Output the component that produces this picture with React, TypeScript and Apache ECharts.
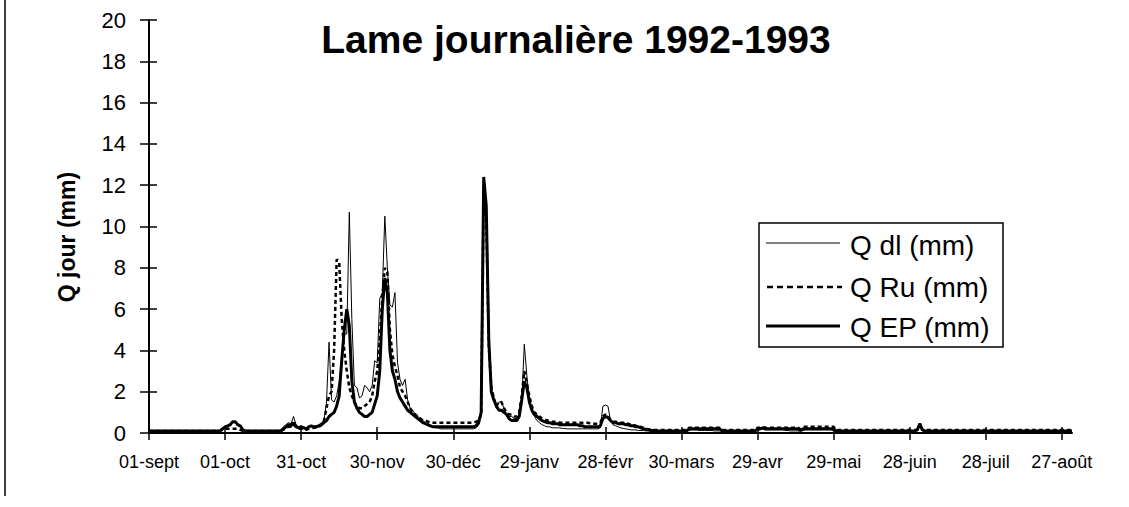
import React, { useEffect, useRef } from "react";
import * as echarts from "echarts";

// Tick labels shown every 30 days (01-sept-1992 .. 31-août-1993, 365 days)
const tickLabels = [
  "01-sept", "01-oct", "31-oct", "30-nov", "30-déc", "29-janv", "28-févr",
  "30-mars", "29-avr", "29-mai", "28-juin", "28-juil", "27-août",
];

const seriesNames = ["Q dl (mm)", "Q Ru (mm)", "Q EP (mm)"];

// Q dl (mm) — daily values
const qDl = [
  0.08, 0.08, 0.08, 0.08, 0.08, 0.08, 0.08, 0.08, 0.08, 0.08,
  0.08, 0.08, 0.08, 0.08, 0.08, 0.08, 0.08, 0.08, 0.08, 0.08,
  0.08, 0.08, 0.08, 0.08, 0.08, 0.08, 0.08, 0.1, 0.12, 0.2,
  0.3, 0.35, 0.4, 0.5, 0.5, 0.4, 0.3, 0.15, 0.1, 0.1,
  0.1, 0.1, 0.1, 0.1, 0.1, 0.1, 0.1, 0.1, 0.1, 0.1,
  0.1, 0.12, 0.15, 0.3, 0.4, 0.5, 0.45, 0.8, 0.4, 0.3,
  0.35, 0.3, 0.25, 0.35, 0.3, 0.3, 0.35, 0.4, 0.5, 0.6,
  1.5, 4.4, 1.6, 1.5, 1.8, 2.5, 3.6, 4.8, 4.8, 10.7,
  5.5, 2.3, 2.2, 1.7, 1.8, 2.3, 2.2, 2.0, 2.3, 3.5,
  3.4, 6.5, 6.8, 10.5, 8.0, 6.2, 6.1, 6.8, 3.4, 2.6,
  2.3, 2.6, 1.6, 1.2, 1.1, 0.9, 0.8, 0.7, 0.6, 0.5,
  0.4, 0.35, 0.3, 0.25, 0.25, 0.2, 0.2, 0.2, 0.2, 0.2,
  0.2, 0.2, 0.2, 0.2, 0.2, 0.2, 0.2, 0.2, 0.2, 0.25,
  0.4, 1.0, 12.3, 10.8, 4.4, 2.0, 1.6, 1.2, 1.5, 1.5,
  1.2, 0.9, 0.8, 0.8, 0.7, 0.7, 0.9, 1.5, 4.3, 2.8,
  1.6, 1.0, 0.8, 0.6, 0.5, 0.4, 0.35, 0.3, 0.3, 0.25,
  0.25, 0.25, 0.25, 0.22, 0.22, 0.2, 0.2, 0.2, 0.2, 0.2,
  0.2, 0.2, 0.2, 0.2, 0.2, 0.2, 0.2, 0.2, 0.25, 1.3,
  1.35, 1.3, 0.6, 0.4, 0.35, 0.3, 0.25, 0.22, 0.2, 0.18,
  0.15, 0.15, 0.15, 0.12, 0.12, 0.12, 0.1, 0.1, 0.1, 0.1,
  0.1, 0.1, 0.1, 0.1, 0.1, 0.1, 0.1, 0.1, 0.1, 0.1,
  0.1, 0.1, 0.1, 0.12, 0.15, 0.15, 0.15, 0.12, 0.12, 0.12,
  0.12, 0.12, 0.12, 0.1, 0.1, 0.1, 0.1, 0.1, 0.1, 0.1,
  0.1, 0.1, 0.1, 0.1, 0.1, 0.1, 0.1, 0.1, 0.1, 0.1,
  0.12, 0.15, 0.2, 0.15, 0.15, 0.15, 0.15, 0.15, 0.15, 0.15,
  0.15, 0.12, 0.12, 0.1, 0.1, 0.1, 0.1, 0.1, 0.12, 0.15,
  0.15, 0.15, 0.15, 0.15, 0.15, 0.15, 0.15, 0.15, 0.15, 0.15,
  0.1, 0.1, 0.1, 0.1, 0.1, 0.1, 0.1, 0.1, 0.1, 0.1,
  0.08, 0.08, 0.08, 0.08, 0.08, 0.08, 0.08, 0.08, 0.08, 0.08,
  0.08, 0.08, 0.08, 0.08, 0.08, 0.08, 0.08, 0.08, 0.08, 0.08,
  0.08, 0.08, 0.1, 0.15, 0.4, 0.15, 0.1, 0.08, 0.08, 0.08,
  0.08, 0.08, 0.08, 0.08, 0.08, 0.08, 0.08, 0.08, 0.08, 0.08,
  0.08, 0.08, 0.08, 0.08, 0.08, 0.08, 0.08, 0.08, 0.08, 0.08,
  0.08, 0.08, 0.08, 0.08, 0.08, 0.08, 0.08, 0.08, 0.08, 0.08,
  0.08, 0.08, 0.08, 0.08, 0.08, 0.08, 0.08, 0.08, 0.08, 0.08,
  0.08, 0.08, 0.08, 0.08, 0.08, 0.08, 0.08, 0.08, 0.08, 0.08,
  0.08, 0.08, 0.08, 0.08, 0.08,
];

// Q Ru (mm) — daily values
const qRu = [
  0.1, 0.1, 0.1, 0.1, 0.1, 0.1, 0.1, 0.1, 0.1, 0.1,
  0.1, 0.1, 0.1, 0.1, 0.1, 0.1, 0.1, 0.1, 0.1, 0.1,
  0.1, 0.1, 0.1, 0.1, 0.1, 0.1, 0.1, 0.1, 0.1, 0.15,
  0.2, 0.2, 0.2, 0.2, 0.2, 0.2, 0.15, 0.1, 0.1, 0.1,
  0.1, 0.1, 0.1, 0.1, 0.1, 0.1, 0.1, 0.1, 0.1, 0.1,
  0.1, 0.1, 0.1, 0.15, 0.25, 0.3, 0.3, 0.4, 0.3, 0.2,
  0.2, 0.2, 0.15, 0.2, 0.2, 0.25, 0.25, 0.3, 0.4, 0.6,
  1.2, 1.8, 2.0, 4.0, 8.4, 8.3, 5.5, 4.0, 3.0, 2.2,
  1.8, 1.5, 1.3, 1.2, 1.2, 1.3, 1.4, 1.5, 1.8, 2.5,
  3.0, 4.5, 6.5, 8.0, 7.8, 5.0, 3.8, 3.2, 2.8, 2.2,
  2.0, 1.8, 1.5, 1.2, 1.0, 0.9, 0.8, 0.7, 0.6, 0.6,
  0.55, 0.5, 0.5, 0.5, 0.5, 0.5, 0.5, 0.5, 0.5, 0.5,
  0.5, 0.5, 0.5, 0.5, 0.5, 0.5, 0.5, 0.5, 0.5, 0.55,
  0.6, 0.9, 12.0, 10.5, 4.2, 2.2, 1.7, 1.3, 1.5, 1.5,
  1.2, 1.0, 0.9, 0.9, 0.8, 0.8, 1.0, 1.8, 3.0, 2.4,
  1.8, 1.3, 1.0, 0.9, 0.8, 0.7, 0.65, 0.6, 0.6, 0.55,
  0.55, 0.55, 0.5, 0.5, 0.5, 0.5, 0.5, 0.5, 0.5, 0.5,
  0.5, 0.5, 0.5, 0.5, 0.45, 0.45, 0.45, 0.45, 0.5, 0.8,
  0.9, 0.8, 0.65, 0.55, 0.55, 0.5, 0.5, 0.5, 0.45, 0.45,
  0.4, 0.4, 0.35, 0.3, 0.3, 0.25, 0.2, 0.18, 0.15, 0.15,
  0.15, 0.15, 0.15, 0.15, 0.15, 0.15, 0.15, 0.15, 0.15, 0.15,
  0.15, 0.15, 0.15, 0.25, 0.25, 0.25, 0.25, 0.25, 0.25, 0.25,
  0.25, 0.25, 0.25, 0.25, 0.25, 0.25, 0.15, 0.15, 0.15, 0.15,
  0.15, 0.15, 0.15, 0.15, 0.15, 0.15, 0.15, 0.15, 0.15, 0.15,
  0.25, 0.25, 0.3, 0.25, 0.25, 0.25, 0.25, 0.25, 0.25, 0.25,
  0.25, 0.25, 0.25, 0.25, 0.25, 0.25, 0.25, 0.18, 0.3, 0.3,
  0.3, 0.3, 0.3, 0.3, 0.3, 0.3, 0.3, 0.3, 0.3, 0.3,
  0.3, 0.15, 0.15, 0.15, 0.15, 0.15, 0.15, 0.15, 0.15, 0.15,
  0.15, 0.15, 0.15, 0.15, 0.15, 0.15, 0.15, 0.15, 0.15, 0.15,
  0.15, 0.15, 0.15, 0.15, 0.15, 0.15, 0.15, 0.15, 0.15, 0.15,
  0.15, 0.15, 0.15, 0.15, 0.45, 0.15, 0.15, 0.15, 0.15, 0.15,
  0.15, 0.15, 0.15, 0.15, 0.15, 0.15, 0.15, 0.15, 0.15, 0.15,
  0.15, 0.15, 0.15, 0.15, 0.15, 0.15, 0.15, 0.15, 0.15, 0.15,
  0.15, 0.15, 0.15, 0.15, 0.15, 0.15, 0.15, 0.15, 0.15, 0.15,
  0.15, 0.15, 0.15, 0.15, 0.15, 0.15, 0.15, 0.15, 0.15, 0.15,
  0.15, 0.15, 0.15, 0.15, 0.15, 0.15, 0.15, 0.15, 0.15, 0.15,
  0.15, 0.15, 0.15, 0.15, 0.15,
];

// Q EP (mm) — daily values
const qEp = [
  0.1, 0.1, 0.1, 0.1, 0.1, 0.1, 0.1, 0.1, 0.1, 0.1,
  0.1, 0.1, 0.1, 0.1, 0.1, 0.1, 0.1, 0.1, 0.1, 0.1,
  0.1, 0.1, 0.1, 0.1, 0.1, 0.1, 0.1, 0.1, 0.1, 0.2,
  0.3, 0.35, 0.4, 0.55, 0.55, 0.4, 0.35, 0.15, 0.1, 0.1,
  0.1, 0.1, 0.1, 0.1, 0.1, 0.1, 0.1, 0.1, 0.1, 0.1,
  0.1, 0.1, 0.1, 0.2, 0.3, 0.4, 0.35, 0.5, 0.3, 0.25,
  0.3, 0.25, 0.2, 0.3, 0.35, 0.3, 0.3, 0.35, 0.4, 0.5,
  0.6, 0.8, 0.9, 1.0, 1.3, 1.8, 3.5, 5.0, 6.0, 5.2,
  2.5, 1.5, 1.2, 1.0, 0.9, 0.8, 0.8, 0.9, 1.0, 1.4,
  1.8, 3.0, 6.0, 7.5, 6.8, 4.0, 3.0, 2.6, 2.0, 1.7,
  1.5, 1.3, 1.1, 1.0, 0.9, 0.8, 0.7, 0.6, 0.5, 0.45,
  0.4, 0.35, 0.3, 0.3, 0.3, 0.3, 0.3, 0.3, 0.3, 0.3,
  0.3, 0.3, 0.3, 0.3, 0.3, 0.3, 0.3, 0.3, 0.3, 0.35,
  0.5, 1.0, 12.4, 11.0, 4.5, 2.0, 1.6, 1.3, 1.1, 1.1,
  1.0, 0.9, 0.7, 0.6, 0.6, 0.6, 0.8, 1.6, 2.5, 2.2,
  1.5, 1.1, 0.9, 0.8, 0.7, 0.6, 0.55, 0.5, 0.5, 0.45,
  0.45, 0.45, 0.4, 0.4, 0.4, 0.4, 0.4, 0.4, 0.4, 0.4,
  0.35, 0.35, 0.3, 0.3, 0.3, 0.3, 0.3, 0.3, 0.35, 0.7,
  0.8, 0.75, 0.6, 0.5, 0.5, 0.45, 0.45, 0.45, 0.4, 0.4,
  0.35, 0.35, 0.3, 0.3, 0.25, 0.2, 0.18, 0.15, 0.12, 0.12,
  0.1, 0.1, 0.1, 0.1, 0.1, 0.1, 0.1, 0.1, 0.1, 0.1,
  0.1, 0.1, 0.1, 0.2, 0.2, 0.2, 0.2, 0.2, 0.2, 0.2,
  0.2, 0.2, 0.2, 0.2, 0.2, 0.2, 0.1, 0.1, 0.1, 0.1,
  0.1, 0.1, 0.1, 0.1, 0.1, 0.1, 0.1, 0.1, 0.1, 0.1,
  0.2, 0.2, 0.25, 0.2, 0.2, 0.2, 0.2, 0.2, 0.2, 0.2,
  0.2, 0.2, 0.2, 0.2, 0.2, 0.2, 0.2, 0.12, 0.2, 0.2,
  0.2, 0.2, 0.2, 0.2, 0.2, 0.2, 0.2, 0.2, 0.2, 0.2,
  0.2, 0.1, 0.1, 0.1, 0.1, 0.1, 0.1, 0.1, 0.1, 0.1,
  0.1, 0.1, 0.1, 0.1, 0.1, 0.1, 0.1, 0.1, 0.1, 0.1,
  0.1, 0.1, 0.1, 0.1, 0.1, 0.1, 0.1, 0.1, 0.1, 0.1,
  0.1, 0.1, 0.1, 0.15, 0.45, 0.15, 0.1, 0.1, 0.1, 0.1,
  0.1, 0.1, 0.1, 0.1, 0.1, 0.1, 0.1, 0.1, 0.1, 0.1,
  0.1, 0.1, 0.1, 0.1, 0.1, 0.1, 0.1, 0.1, 0.1, 0.1,
  0.1, 0.1, 0.1, 0.1, 0.1, 0.1, 0.1, 0.1, 0.1, 0.1,
  0.1, 0.1, 0.1, 0.1, 0.1, 0.1, 0.1, 0.1, 0.1, 0.1,
  0.1, 0.1, 0.1, 0.1, 0.1, 0.1, 0.1, 0.1, 0.1, 0.1,
  0.1, 0.1, 0.1, 0.1, 0.1,
];

const days = qDl.map((_, i) => String(i));

export default function App() {
  const ref = useRef<HTMLDivElement>(null);

  useEffect(() => {
    if (!ref.current) return;
    const chart = echarts.init(ref.current, null, { renderer: "svg" });
    const font = "'Liberation Sans', Arial, sans-serif";
    const tickStyle = { color: "#000", width: 1.5 };
    const fmt = (_v: string, i: number) =>
      i % 30 === 0 && tickLabels[i / 30] !== undefined ? tickLabels[i / 30] : "";

    chart.setOption({
      animation: false,
      backgroundColor: "#ffffff",
      grid: { left: 149, right: 57, top: 20, bottom: 74, containLabel: false },
      xAxis: [
        {
          type: "category",
          data: days,
          boundaryGap: false,
          axisLine: { show: true, lineStyle: { color: "#000", width: 2 } },
          axisTick: { show: true, interval: 29, length: 7, lineStyle: tickStyle },
          axisLabel: {
            interval: 29,
            formatter: fmt,
            color: "#000",
            fontSize: 18,
            fontFamily: font,
            margin: 20,
          },
          splitLine: { show: false },
        },
        {
          type: "category",
          data: days,
          boundaryGap: false,
          position: "bottom",
          axisLine: { show: false },
          axisTick: { show: true, inside: true, interval: 29, length: 6, lineStyle: tickStyle },
          axisLabel: { show: false },
          splitLine: { show: false },
        },
      ],
      yAxis: [
        {
          type: "value",
          min: 0,
          max: 20,
          interval: 2,
          axisLine: { show: true, lineStyle: { color: "#000", width: 2 } },
          axisTick: { show: true, length: 9, lineStyle: tickStyle },
          axisLabel: { color: "#000", fontSize: 22, fontFamily: font, margin: 23 },
          splitLine: { show: false },
        },
        {
          type: "value",
          min: 0,
          max: 20,
          interval: 2,
          position: "left",
          axisLine: { show: false },
          axisTick: { show: true, inside: true, length: 8, lineStyle: tickStyle },
          axisLabel: { show: false },
          splitLine: { show: false },
        },
      ],
      series: [
        {
          name: seriesNames[0],
          type: "line",
          data: qDl,
          symbol: "none",
          showSymbol: false,
          lineStyle: { color: "#000", width: 1 },
          z: 2,
        },
        {
          name: seriesNames[1],
          type: "line",
          data: qRu,
          symbol: "none",
          showSymbol: false,
          lineStyle: { color: "#000", width: 2.5, type: [4, 3] },
          z: 3,
        },
        {
          name: seriesNames[2],
          type: "line",
          data: qEp,
          symbol: "none",
          showSymbol: false,
          lineStyle: { color: "#000", width: 3 },
          z: 4,
        },
      ],
      graphic: [
        {
          type: "line",
          shape: { x1: 5, y1: 0, x2: 5, y2: 496 },
          style: { stroke: "#000", lineWidth: 1.5 },
        },
        {
          type: "text",
          x: 576,
          y: 39,
          style: {
            text: "Lame journalière 1992-1993",
            font: `bold 39px ${font}`,
            fill: "#000",
            textAlign: "center",
            textVerticalAlign: "middle",
          },
        },
        {
          type: "text",
          x: 67,
          y: 237,
          rotation: Math.PI / 2,
          style: {
            text: "Q jour (mm)",
            font: `bold 23px ${font}`,
            fill: "#000",
            textAlign: "center",
            textVerticalAlign: "middle",
          },
        },
        {
          type: "rect",
          shape: { x: 759, y: 223, width: 244, height: 124 },
          style: { fill: "#fff", stroke: "#000", lineWidth: 1.5 },
          z: 10,
        },
        {
          type: "line",
          shape: { x1: 766, y1: 243, x2: 840, y2: 243 },
          style: { stroke: "#000", lineWidth: 1 },
          z: 11,
        },
        {
          type: "line",
          shape: { x1: 767, y1: 287, x2: 842, y2: 287 },
          style: { stroke: "#000", lineWidth: 2.5, lineDash: [6, 4] },
          z: 11,
        },
        {
          type: "line",
          shape: { x1: 766, y1: 326, x2: 840, y2: 326 },
          style: { stroke: "#000", lineWidth: 3 },
          z: 11,
        },
        {
          type: "text",
          x: 850,
          y: 245,
          style: { text: seriesNames[0], font: `28px ${font}`, fill: "#000", textVerticalAlign: "middle" },
          z: 11,
        },
        {
          type: "text",
          x: 850,
          y: 287,
          style: { text: seriesNames[1], font: `28px ${font}`, fill: "#000", textVerticalAlign: "middle" },
          z: 11,
        },
        {
          type: "text",
          x: 850,
          y: 327,
          style: { text: seriesNames[2], font: `28px ${font}`, fill: "#000", textVerticalAlign: "middle" },
          z: 11,
        },
      ],
    });

    return () => chart.dispose();
  }, []);

  return (
    <div
      ref={ref}
      style={{ position: "absolute", left: 0, top: 0, width: 1129, height: 507, background: "#fff" }}
    />
  );
}
